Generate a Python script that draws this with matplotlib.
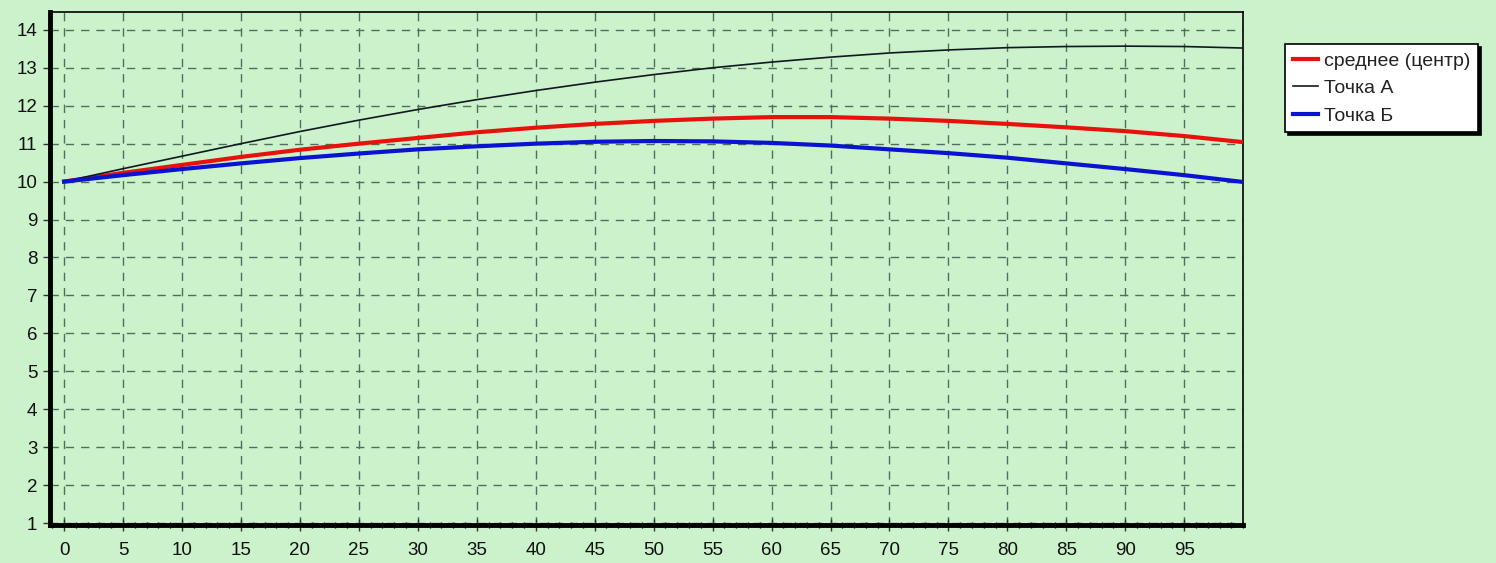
import matplotlib.pyplot as plt
from matplotlib.ticker import MultipleLocator

plt.rcParams["font.family"] = ["Liberation Sans", "DejaVu Sans"]

x = [0, 5, 10, 15, 20, 25, 30, 35, 40, 45, 50, 55, 60, 65, 70, 75, 80, 85, 90, 95, 100]
tochka_a = [10.0, 10.34, 10.67, 11.0, 11.32, 11.62, 11.90, 12.16, 12.40, 12.62, 12.82,
            13.0, 13.15, 13.28, 13.39, 13.47, 13.53, 13.56, 13.57, 13.56, 13.52]
srednee = [10.0, 10.23, 10.44, 10.65, 10.84, 11.0, 11.15, 11.30, 11.42, 11.52, 11.60,
           11.66, 11.70, 11.70, 11.66, 11.60, 11.52, 11.43, 11.33, 11.20, 11.04]
tochka_b = [10.0, 10.17, 10.33, 10.48, 10.62, 10.74, 10.85, 10.93, 11.0, 11.05, 11.07,
            11.06, 11.02, 10.95, 10.85, 10.75, 10.63, 10.48, 10.33, 10.17, 9.99]

bg = "#cbf2cb"

fig = plt.figure(figsize=(14.96, 5.63), dpi=100, facecolor=bg)
ax = fig.add_axes([0.0334, 0.0675, 0.7976, 0.9112], facecolor=bg)

ax.plot(x, srednee, color="#e8120c", lw=3, label="среднее (центр)", zorder=3)
ax.plot(x, tochka_a, color="#101820", lw=1.2, label="Точка А", zorder=3)
ax.plot(x, tochka_b, color="#0a14d0", lw=3, label="Точка Б", zorder=3)

ax.set_xlim(-1.2, 100)
ax.set_ylim(0.95, 14.47)
ax.xaxis.set_minor_locator(MultipleLocator(1))
ax.set_xticks(range(0, 100, 5))
ax.set_yticks(range(1, 15))

ax.grid(True, which="major", color="#4f6f5c", ls=(0, (6, 5)), lw=1.0)
ax.tick_params(axis="both", which="major", labelsize=13.5, length=5, width=1,
               color="#333333", labelcolor="#111111")
ax.tick_params(axis="x", which="minor", direction="inout", length=5, width=1)
ax.tick_params(axis="x", which="major", direction="inout", length=9, pad=8)
ax.tick_params(axis="y", which="major", pad=4)

ax.spines["left"].set_linewidth(3.5)
ax.spines["bottom"].set_linewidth(3.5)
ax.spines["top"].set_linewidth(1.2)
ax.spines["right"].set_linewidth(1.2)

leg = ax.legend(loc="upper left", bbox_to_anchor=(0.859, 0.921),
                bbox_transform=fig.transFigure, fontsize=14, frameon=True,
                fancybox=False, shadow={"color": "black", "alpha": 1},
                edgecolor="black", facecolor="white", framealpha=1,
                handlelength=1.3, handletextpad=0.3, borderpad=0.4,
                labelspacing=0.5, borderaxespad=0)
for t in leg.get_texts():
    t.set_color("#222222")
leg.get_frame().set_linewidth(1.2)

plt.savefig("out.png", dpi=100, facecolor=bg)
